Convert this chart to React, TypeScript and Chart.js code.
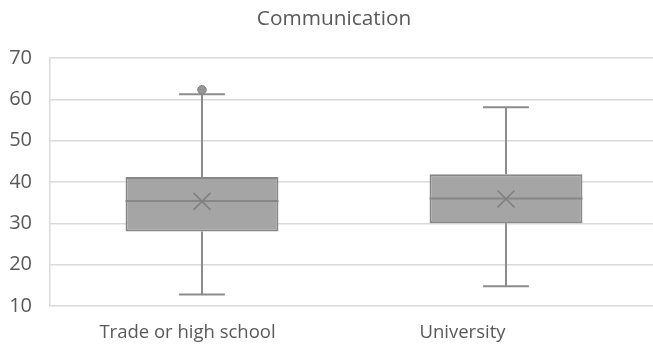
import { useEffect, useRef } from 'react';
import { Chart, registerables } from 'chart.js';

Chart.register(...registerables);

// Five-number summaries per education group
const categories = ['Trade or high school', 'University'];
const minimums = [12.8, 14.8];
const lowerQuartiles = [28.0, 30.0];
const medians = [35.4, 36.0];
const upperQuartiles = [41.2, 41.9];
const maximums = [61.2, 58.1];
const means = [35.3, 35.9];
const outliers: number[][] = [[62.3], []];
const yTicks = [10, 20, 30, 40, 50, 60, 70];

const FONT = '"Open Sans", "Noto Sans", sans-serif';
const LABEL_SIZE = 18.5;
const TICK_SIZE = 20;
const TITLE_SIZE = 20.8;
const TEXT = '#595959';
const BOX_FILL = '#a5a5a5';
const BOX_EDGE = '#878787';
const WHISKER = '#8c8c8c';

// Whiskers, caps and median line, drawn right after the boxes
const whiskerPlugin = {
  id: 'whiskers',
  afterDatasetDraw(chart: any, args: any) {
    if (args.index !== 0) return;
    const y = chart.scales.y;
    const ctx = chart.ctx;
    const meta = chart.getDatasetMeta(0);
    ctx.save();
    meta.data.forEach((bar: any, i: number) => {
      const cx = bar.x;
      const half = bar.width / 2;
      const cap = bar.width * 0.15;
      const yMin = y.getPixelForValue(minimums[i]);
      const yMax = y.getPixelForValue(maximums[i]);
      const yQ1 = y.getPixelForValue(lowerQuartiles[i]);
      const yQ3 = y.getPixelForValue(upperQuartiles[i]);
      const yMed = y.getPixelForValue(medians[i]);
      ctx.strokeStyle = WHISKER;
      ctx.lineWidth = 2;
      ctx.beginPath();
      ctx.moveTo(cx, yQ3);
      ctx.lineTo(cx, yMax);
      ctx.moveTo(cx - cap, yMax);
      ctx.lineTo(cx + cap, yMax);
      ctx.moveTo(cx, yQ1);
      ctx.lineTo(cx, yMin);
      ctx.moveTo(cx - cap, yMin);
      ctx.lineTo(cx + cap, yMin);
      ctx.stroke();
      ctx.strokeStyle = BOX_EDGE;
      ctx.beginPath();
      ctx.moveTo(cx - half, yMed);
      ctx.lineTo(cx + half, yMed);
      ctx.stroke();
    });
    ctx.restore();
  },
};

// Category captions under the plot
const captionPlugin = {
  id: 'captions',
  afterDraw(chart: any) {
    const { ctx, chartArea } = chart;
    const band = 275;
    ctx.save();
    ctx.font = `${LABEL_SIZE}px ${FONT}`;
    ctx.fillStyle = TEXT;
    ctx.textAlign = 'center';
    ctx.textBaseline = 'middle';
    categories.forEach((label, i) => {
      ctx.fillText(label, chartArea.left + (i + 0.5) * band, chartArea.bottom + 27);
    });
    ctx.restore();
  },
};

export default function App() {
  const canvasRef = useRef<HTMLCanvasElement | null>(null);

  useEffect(() => {
    const canvas = canvasRef.current;
    if (!canvas) return;
    const outlierPoints = outliers.flatMap((vals, i) =>
      vals.map((v) => ({ x: categories[i], y: v }))
    );
    const chart = new Chart(canvas, {
      type: 'bar',
      data: {
        labels: categories,
        datasets: [
          {
            type: 'bar',
            data: categories.map((_, i) => [lowerQuartiles[i], upperQuartiles[i]]),
            backgroundColor: BOX_FILL,
            borderColor: BOX_EDGE,
            borderWidth: 2,
            borderSkipped: false,
            barPercentage: 1,
            categoryPercentage: 0.503,
            order: 2,
          },
          {
            type: 'line',
            data: means,
            showLine: false,
            pointStyle: 'crossRot',
            pointRadius: 12,
            pointBorderColor: '#808080',
            pointBorderWidth: 1.6,
            order: 1,
          },
          {
            type: 'line',
            data: outlierPoints,
            showLine: false,
            pointStyle: 'circle',
            pointRadius: 4.3,
            pointBackgroundColor: '#969696',
            pointBorderColor: '#828282',
            pointBorderWidth: 1,
            order: 1,
          },
        ] as any,
      },
      options: {
        animation: false,
        responsive: false,
        devicePixelRatio: 1,
        layout: { autoPadding: false, padding: { top: 0, right: 10, bottom: 0, left: 10 } },
        plugins: {
          legend: { display: false },
          tooltip: { enabled: false },
          title: {
            display: true,
            text: 'Communication',
            color: TEXT,
            font: { family: FONT, size: TITLE_SIZE, weight: 'normal' },
            padding: { top: 7, bottom: 26 },
          },
        },
        scales: {
          x: {
            grid: { display: false },
            border: { display: false },
            ticks: { display: false },
            afterFit: (s: any) => {
              s.height = 50;
            },
          },
          y: {
            min: yTicks[0],
            max: yTicks[yTicks.length - 1],
            afterBuildTicks: (s: any) => {
              s.ticks = yTicks.map((v) => ({ value: v }));
            },
            grid: { color: '#d9d9d9', lineWidth: 1.5, drawTicks: false },
            border: { display: true, color: '#d9d9d9', width: 1.5 },
            ticks: {
              color: TEXT,
              padding: 18,
              font: { family: FONT, size: TICK_SIZE },
            },
            afterFit: (s: any) => {
              s.width = 40;
            },
          },
        },
      } as any,
      plugins: [whiskerPlugin, captionPlugin],
    });
    return () => chart.destroy();
  }, []);

  return (
    <div
      style={{
        position: 'fixed',
        left: 0,
        top: 0,
        width: 653,
        height: 356,
        overflow: 'hidden',
        background: '#ffffff',
      }}
    >
      <canvas ref={canvasRef} width={668} height={356} />
    </div>
  );
}
